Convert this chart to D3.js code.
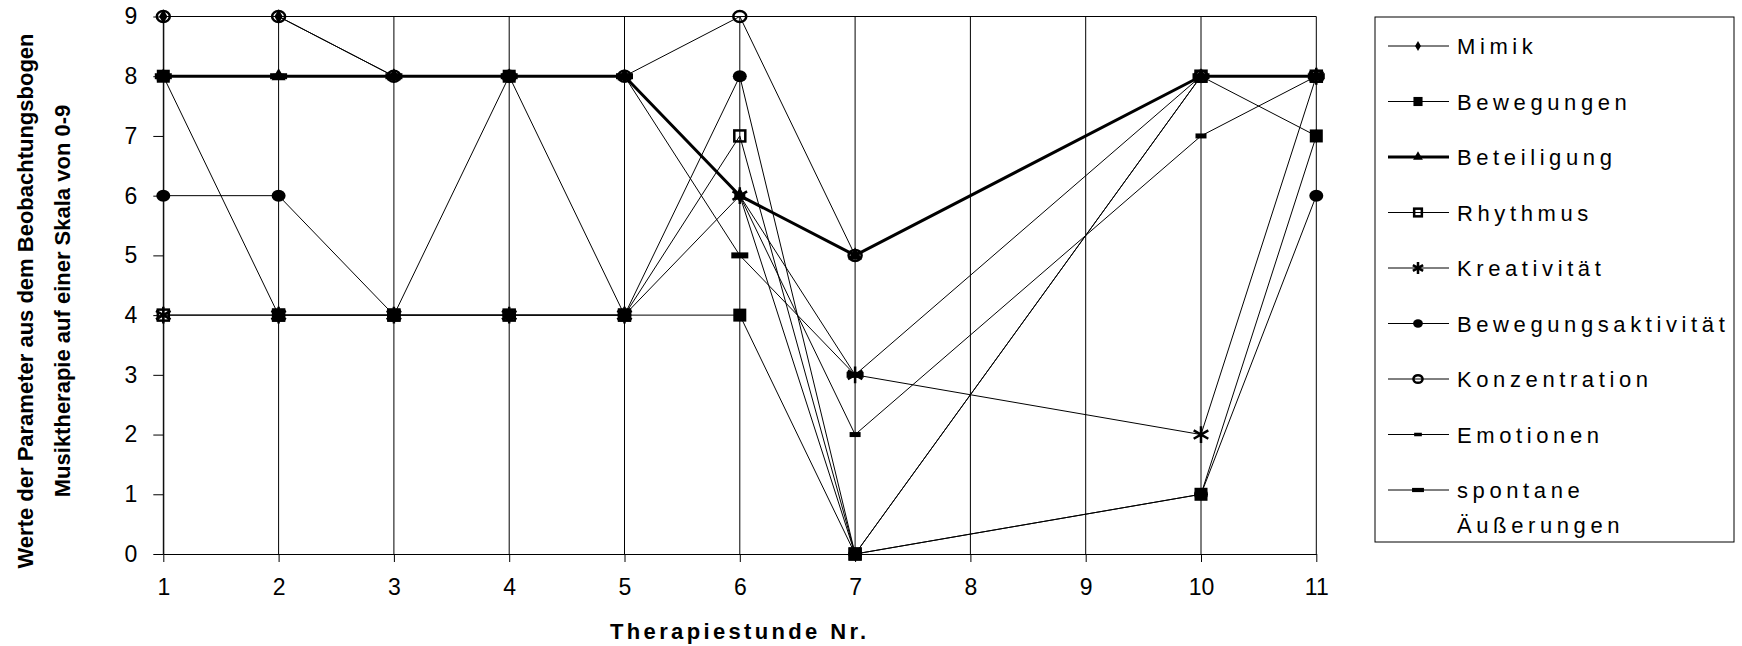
<!DOCTYPE html>
<html>

<head>
  <meta charset="utf-8">
  <script src="https://d3js.org/d3.v7.min.js"></script>
  <style>
    body {
      margin: 0;
      background: #fff;
    }

    .chart text {
      font-family: Arial, "Liberation Sans", sans-serif;
      fill: #000;
    }

    .tick text {
      font-size: 23px;
    }

    .axis-title {
      font-size: 22px;
      font-weight: bold;
    }

    .legend text {
      font-size: 22px;
      letter-spacing: 4.6px;
    }
  </style>
</head>

<body>
  <div id="chart"></div>

  <script>
    // Therapiestunden 1-11, Stunden 8 und 9 ohne Werte
    const sessions = ["1", "2", "3", "4", "5", "6", "7", "8", "9", "10", "11"];

    const mimik = [9, 9, 8, 8, 8, 6, 0, null, null, 8, 7];
    const bewegungen = [8, 4, 4, 8, 4, 4, 0, null, null, 1, 7];
    const beteiligung = [8, 8, 8, 8, 8, 6, 5, null, null, 8, 8];
    const rhythmus = [4, 4, 4, 4, 4, 7, 0, null, null, 8, 8];
    const kreativitaet = [4, 4, 4, 4, 4, 6, 3, null, null, 2, 8];
    const bewegungsaktivitaet = [6, 6, 4, 4, 4, 8, 0, null, null, 1, 6];
    const konzentration = [9, 9, 8, 8, 8, 9, 5, null, null, 8, 8];
    const emotionen = [8, 8, 8, 8, 8, 6, 2, null, null, 7, 8];
    const spontan = [8, 8, 8, 8, 8, 5, 3, null, null, 8, 8];

    const seriesNames = ["Mimik", "Bewegungen", "Beteiligung", "Rhythmus", "Kreativität",
      "Bewegungsaktivität", "Konzentration", "Emotionen", "spontane Äußerungen"];
    const seriesValues = [mimik, bewegungen, beteiligung, rhythmus, kreativitaet,
      bewegungsaktivitaet, konzentration, emotionen, spontan];
    const yTicks = [0, 1, 2, 3, 4, 5, 6, 7, 8, 9];

    // marker style per series (same order as seriesNames)
    const markerTypes = ["diamond", "square", "triangle", "openSquare", "asterisk",
      "circle", "openCircle", "dash", "longDash"];

    const series = seriesNames.map((name, i) => ({
      name: name,
      marker: markerTypes[i],
      width: name === "Beteiligung" ? 3 : 1,
      points: sessions.map((s, j) => ({ session: s, value: seriesValues[i][j] }))
        .filter(p => p.value !== null)
    }));

    const W = 1742, H = 646;
    const plot = { left: 163.3, right: 1316.3, top: 16.5, bottom: 554 };

    const svg = d3.select("#chart")
      .append("svg")
      .attr("class", "chart")
      .attr("width", W)
      .attr("height", H);

    const x = d3.scalePoint()
      .domain(sessions)
      .range([plot.left, plot.right]);

    const y = d3.scaleLinear()
      .domain([0, 9])
      .range([plot.bottom, plot.top]);

    // vertical grid lines + top border
    svg.append("g")
      .selectAll("line")
      .data(sessions)
      .enter().append("line")
      .attr("x1", d => x(d))
      .attr("x2", d => x(d))
      .attr("y1", y(0))
      .attr("y2", y(9))
      .attr("stroke", "#000")
      .attr("stroke-width", 1);

    svg.append("line")
      .attr("x1", x("1"))
      .attr("x2", x("11"))
      .attr("y1", y(9))
      .attr("y2", y(9))
      .attr("stroke", "#000");

    // axes
    svg.append("g")
      .attr("transform", `translate(${plot.left},0)`)
      .call(d3.axisLeft(y).tickValues(yTicks).tickSize(10).tickSizeOuter(0).tickPadding(16));

    svg.append("g")
      .attr("transform", `translate(0,${plot.bottom})`)
      .call(d3.axisBottom(x).tickSize(8).tickSizeOuter(0).tickPadding(17));

    svg.selectAll(".domain, .tick line").attr("stroke", "#000");
    svg.selectAll(".tick text").attr("font-family", null).attr("font-size", null);

    // axis titles
    svg.append("text")
      .attr("class", "axis-title")
      .attr("x", (plot.left + plot.right) / 2)
      .attr("y", 639)
      .attr("text-anchor", "middle")
      .style("letter-spacing", "3.35px")
      .text("Therapiestunde Nr.");

    const yTitle = svg.append("text")
      .attr("class", "axis-title")
      .attr("text-anchor", "middle")
      .attr("transform", "translate(0,301) rotate(-90)");
    yTitle.append("tspan")
      .attr("x", 0)
      .attr("y", 33)
      .text("Werte der Parameter aus dem Beobachtungsbogen");
    yTitle.append("tspan")
      .attr("x", 0)
      .attr("y", 70)
      .text("Musiktherapie auf einer Skala von 0-9");

    // lines
    const line = d3.line()
      .x(d => x(d.session))
      .y(d => y(d.value));

    svg.append("g")
      .selectAll("path")
      .data(series)
      .enter().append("path")
      .attr("fill", "none")
      .attr("stroke", "#000")
      .attr("stroke-width", d => d.width)
      .attr("stroke-linejoin", "round")
      .attr("d", d => line(d.points));

    // marker drawing (open markers are hollow, like in Excel)
    function drawMarker(g, type, s) {
      s = s || 1;
      if (type === "diamond") {
        g.append("path").attr("d", d3.symbol(d3.symbolDiamond, 60 * s * s)()).attr("fill", "#000");
      } else if (type === "square") {
        g.append("rect").attr("x", -6.5 * s).attr("y", -6.5 * s).attr("width", 13 * s).attr("height", 13 * s).attr("fill", "#000");
      } else if (type === "triangle") {
        g.append("path").attr("d", d3.symbol(d3.symbolTriangle, 85 * s * s)()).attr("fill", "#000");
      } else if (type === "openSquare") {
        g.append("rect").attr("x", -5.5 * s).attr("y", -5.5 * s).attr("width", 11 * s).attr("height", 11 * s)
          .attr("fill", "none").attr("stroke", "#000").attr("stroke-width", 2.5);
      } else if (type === "asterisk") {
        g.append("path").attr("d", d3.symbol(d3.symbolAsterisk, 200 * s * s)())
          .attr("fill", "none").attr("stroke", "#000").attr("stroke-width", 2.5);
      } else if (type === "circle") {
        g.append("ellipse").attr("rx", 7 * s).attr("ry", 6 * s).attr("fill", "#000");
      } else if (type === "openCircle") {
        g.append("ellipse").attr("rx", 6.5 * s).attr("ry", 5.5 * s)
          .attr("fill", "none").attr("stroke", "#000").attr("stroke-width", 2.5);
      } else if (type === "dash") {
        g.append("rect").attr("x", -5.5 * s).attr("y", -2.5 * s).attr("width", 11 * s).attr("height", 5 * s).attr("fill", "#000");
      } else if (type === "longDash") {
        g.append("rect").attr("x", -8.5 * s).attr("y", -3 * s).attr("width", 17 * s).attr("height", 6 * s).attr("fill", "#000");
      }
    }

    series.forEach(sr => {
      sr.points.forEach(p => {
        const g = svg.append("g")
          .attr("transform", `translate(${x(p.session)},${y(p.value)})`);
        drawMarker(g, sr.marker, 1);
      });
    });

    // legend
    const legendBox = { x: 1375, y: 17, w: 359, h: 525 };
    const legend = svg.append("g").attr("class", "legend");

    legend.append("rect")
      .attr("x", legendBox.x)
      .attr("y", legendBox.y)
      .attr("width", legendBox.w)
      .attr("height", legendBox.h)
      .attr("fill", "#fff")
      .attr("stroke", "#000");

    const legendItems = legend.selectAll("g.item")
      .data(series)
      .enter().append("g")
      .attr("class", "item")
      .attr("transform", (d, i) => `translate(${legendBox.x}, ${46 + i * 55.5})`);

    legendItems.append("line")
      .attr("x1", 13)
      .attr("x2", 74)
      .attr("stroke", "#000")
      .attr("stroke-width", d => d.width);

    legendItems.each(function (d) {
      const g = d3.select(this).append("g").attr("transform", "translate(43,0)");
      drawMarker(g, d.marker, 0.7);
    });

    legendItems.append("text")
      .attr("x", 82)
      .attr("y", 8)
      .each(function (d) {
        const words = d.name === "spontane Äußerungen" ? ["spontane", "Äußerungen"] : [d.name];
        const t = d3.select(this);
        words.forEach((w, k) => {
          t.append("tspan").attr("x", 82).attr("dy", k === 0 ? 0 : 35).text(w);
        });
      });
  </script>
</body>

</html>
